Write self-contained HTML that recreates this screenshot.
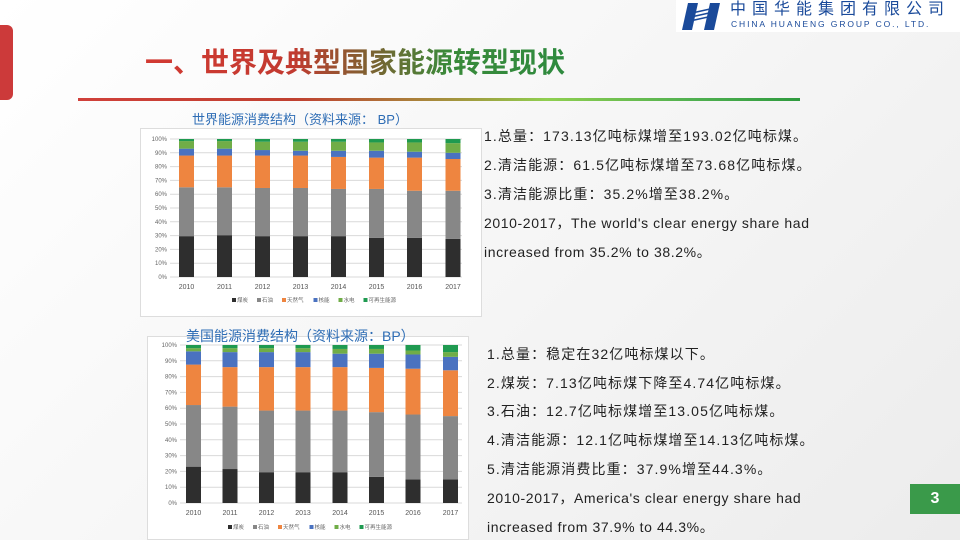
<!DOCTYPE html>
<html><head><meta charset="utf-8"><style>
body{margin:0;width:960px;height:540px;overflow:hidden;background:linear-gradient(135deg,#ffffff 0%,#f4f4f4 60%,#ececec 100%);font-family:"Liberation Sans","WenQuanYi Zen Hei","Noto Sans CJK SC",sans-serif;position:relative}
.abs{position:absolute}
.t{font-size:14px;color:#222;white-space:nowrap;letter-spacing:1.1px}
</style></head><body>
<div class="abs" style="left:0;top:25px;width:13px;height:75px;background:#cc3a3a;border-radius:0 6px 6px 0"></div>
<div class="abs" style="left:145px;top:41px;font-size:28px;font-weight:bold;white-space:nowrap;background:linear-gradient(90deg,#d23a32 0%,#c23a30 35%,#8a5a30 50%,#3a8a3a 72%,#2e8a3e 100%);-webkit-background-clip:text;background-clip:text;color:transparent">一、世界及典型国家能源转型现状</div>
<div class="abs" style="left:78px;top:98px;width:722px;height:3px;background:linear-gradient(90deg,#d0403a 0%,#c04030 30%,#a0a040 55%,#8fcf50 65%,#50b050 85%,#2e9a3e 100%)"></div>
<div class="abs" style="left:676px;top:0;width:284px;height:32px;background:#fff"></div>
<svg class="abs" style="left:680px;top:3px" width="46" height="27"><polygon points="8,0 18,0 12,27 2,27" fill="#1a4a9a"/><polygon points="30,0 40,0 34,27 24,27" fill="#1a4a9a"/><g stroke="#1a4a9a" stroke-width="1.5"><line x1="12" y1="10" x2="30" y2="6"/><line x1="11" y1="14" x2="29" y2="10"/><line x1="10" y1="18" x2="28" y2="14"/></g></svg>
<div class="abs" style="left:730px;top:1px;font-size:16px;line-height:18px;color:#1a4a9a;letter-spacing:6px;white-space:nowrap">中国华能集团有限公司</div>
<div class="abs" style="left:731px;top:20px;font-size:8.5px;line-height:9px;color:#1a4a9a;white-space:nowrap;letter-spacing:1.9px">CHINA HUANENG GROUP CO., LTD.</div>

<div class="abs" style="left:192px;top:109px;font-size:13px;color:#2e6db5;white-space:nowrap">世界能源消费结构（资料来源： BP）</div>
<div class="abs" style="left:140px;top:128px;width:340px;height:187px;background:#fff;border:1px solid #ddd"></div>
<svg id="c1" class="abs" style="left:0;top:0" width="960" height="540"></svg>

<div class="abs" style="left:147px;top:336px;width:320px;height:202px;background:#fff;border:1px solid #ddd"></div>
<div class="abs" style="left:186px;top:326px;font-size:14px;color:#2e6db5;white-space:nowrap">美国能源消费结构（资料来源：BP）</div>
<svg id="c2" class="abs" style="left:0;top:0" width="960" height="540"></svg>

<div class="abs t" style="left:484px;top:126px">1.总量：173.13亿吨标煤增至193.02亿吨标煤。</div>
<div class="abs t" style="left:484px;top:155px">2.清洁能源：61.5亿吨标煤增至73.68亿吨标煤。</div>
<div class="abs t" style="left:484px;top:184px">3.清洁能源比重：35.2%增至38.2%。</div>
<div class="abs t" style="left:484px;top:213px;letter-spacing:0.6px">2010-2017，The world's clear energy share had</div>
<div class="abs t" style="left:484px;top:242px;letter-spacing:0.6px">increased from 35.2% to 38.2%。</div>

<div class="abs t" style="left:487px;top:344px">1.总量：稳定在32亿吨标煤以下。</div>
<div class="abs t" style="left:487px;top:373px">2.煤炭：7.13亿吨标煤下降至4.74亿吨标煤。</div>
<div class="abs t" style="left:487px;top:401px">3.石油：12.7亿吨标煤增至13.05亿吨标煤。</div>
<div class="abs t" style="left:487px;top:430px">4.清洁能源：12.1亿吨标煤增至14.13亿吨标煤。</div>
<div class="abs t" style="left:487px;top:459px">5.清洁能源消费比重：37.9%增至44.3%。</div>
<div class="abs t" style="left:487px;top:488px;letter-spacing:0.6px">2010-2017，America's clear energy share  had</div>
<div class="abs t" style="left:487px;top:517px;letter-spacing:0.6px">increased from 37.9% to 44.3%。</div>

<div class="abs" style="left:910px;top:484px;width:50px;height:30px;background:#3a9a4a;color:#fff;font-size:16px;font-weight:bold;text-align:center;line-height:30px">3</div>

<script>
var cols=['#2e2e2e','#878787','#ee8540','#4a72c0','#70ad47','#1f9a50'];
function draw(id,top,bot,xs,w,data,labs,left,right,legY,legX){
 var s='',H=bot-top;
 for(var i=0;i<=10;i++){var y=bot-H*i/10;s+='<line x1="'+left+'" x2="'+right+'" y1="'+y+'" y2="'+y+'" stroke="#d9d9d9" stroke-width="1"/>';
  s+='<text x="'+(left-3)+'" y="'+(y+2)+'" font-size="6" fill="#666" text-anchor="end" font-family="Liberation Sans">'+(i*10)+'%</text>';}
 data.forEach(function(d,k){var v=[0].concat(d).concat([100]);
  for(var j=0;j<6;j++){var y1=bot-H*v[j+1]/100,y0=bot-H*v[j]/100;
   s+='<rect x="'+(xs[k]-w/2)+'" y="'+y1+'" width="'+w+'" height="'+(y0-y1)+'" fill="'+cols[j]+'"/>';}
  s+='<text x="'+xs[k]+'" y="'+(bot+12)+'" font-size="7" fill="#555" text-anchor="middle" font-family="Liberation Sans">'+labs[k]+'</text>';});
 var names=['煤炭','石油','天然气','核能','水电','可再生能源'];
 var x=legX;names.forEach(function(n,j){s+='<rect x="'+x+'" y="'+(legY-4)+'" width="4" height="4" fill="'+cols[j]+'"/><text x="'+(x+5)+'" y="'+legY+'" font-size="5.5" fill="#666" font-family="WenQuanYi Zen Hei">'+n+'</text>';x+=12+n.length*6.5;});
 document.getElementById(id).innerHTML=s;
}
var y=['2010','2011','2012','2013','2014','2015','2016','2017'];
draw('c1',139,277,[186.5,224.5,262.5,300.5,338.5,376.5,414.5,453],15,
[[29.6,65,88,93,98.5],[30.3,65,88,93,98.5],[29.6,64.5,88,92,98],[29.6,64.5,88,91.5,98],[29.6,63.8,87,91.5,98],[28.3,63.8,86.5,91.5,97.5],[28.3,62.5,86.5,90.8,97.5],[27.7,62.5,85.5,90,97]],y,170,462,302,232);
draw('c2',345,503,[193.5,230,266.5,303,340,376.5,413,450.5],15,
[[23,62,87.6,96,98],[21.5,61,86,95.5,98],[19.5,58.5,86,95.5,98],[19.5,58.5,86,95.5,98],[19.5,58.5,86,94.5,97.5],[16.5,57.5,85.5,94.5,97.5],[15,56,85,94,96.5],[15,55,84,92.5,95.5]],y,180,462,529,228);
</script>
</body></html>
